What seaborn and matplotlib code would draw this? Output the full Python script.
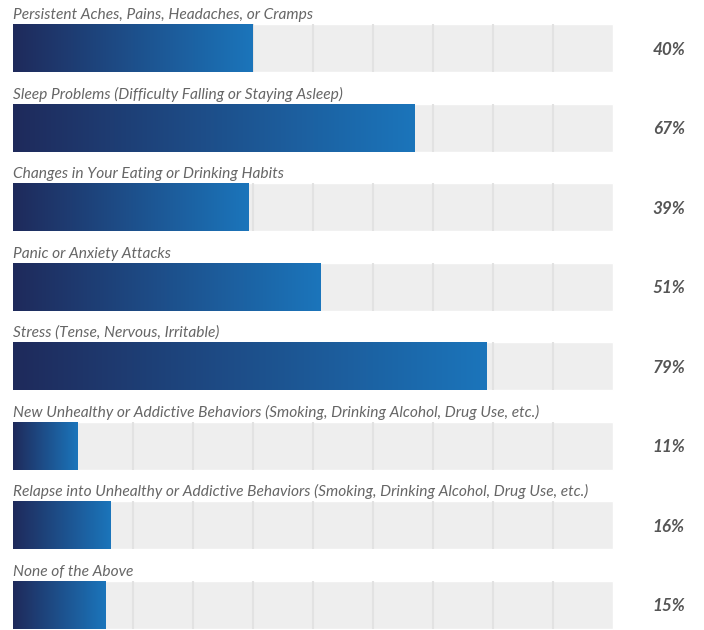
import numpy as np
import matplotlib
matplotlib.use("Agg")
import matplotlib.pyplot as plt
import seaborn as sns
from matplotlib.colors import LinearSegmentedColormap

# chart data
labels = [
    "Persistent Aches, Pains, Headaches, or Cramps",
    "Sleep Problems (Difficulty Falling or Staying Asleep)",
    "Changes in Your Eating or Drinking Habits",
    "Panic or Anxiety Attacks",
    "Stress (Tense, Nervous, Irritable)",
    "New Unhealthy or Addictive Behaviors (Smoking, Drinking Alcohol, Drug Use, etc.)",
    "Relapse into Unhealthy or Addictive Behaviors (Smoking, Drinking Alcohol, Drug Use, etc.)",
    "None of the Above",
]
# bar lengths as drawn (unrounded) and the printed percentages
values = [40, 67, 39.2, 51.3, 79, 10.7, 16.3, 15.5]
pct_labels = ["40%", "67%", "39%", "51%", "79%", "11%", "16%", "15%"]
track = [100] * len(values)
grid_ticks = [10, 20, 30, 40, 50, 60, 70, 80, 90]

sns.set_theme(style="white")
plt.rcParams["font.family"] = ["Lato", "DejaVu Sans"]

fig = plt.figure(figsize=(7.04, 6.30), dpi=100)
ax = fig.add_axes([0, 0, 1, 1])

bar_h = 0.604
rows = list(range(len(labels)))
# gray background track
sns.barplot(x=track, y=rows, orient="h", color="#eeeeee",
            width=bar_h, ax=ax, zorder=1)
# value bars
sns.barplot(x=values, y=rows, orient="h", color="#1b75bb",
            width=bar_h, ax=ax, zorder=3)

# grid lines inside each track
for i in rows:
    ax.vlines(grid_ticks, i - bar_h / 2, i + bar_h / 2, color="#e2e2e2",
              lw=1.5, zorder=2)

# gradient fill for the value bars
cmap = LinearSegmentedColormap.from_list("grad", ["#1f2a5b", "#1b75bb"])
grad = np.linspace(0, 1, 256).reshape(1, -1)
n = len(labels)
for p in ax.patches[n:]:
    x0, y0 = p.get_x(), p.get_y()
    w, h = p.get_width(), p.get_height()
    im = ax.imshow(grad, cmap=cmap, aspect="auto", zorder=4,
                   extent=[x0, x0 + w, y0 + h, y0], interpolation="bilinear")
    im.set_clip_path(p)
    p.set_facecolor("none")
    p.set_edgecolor("none")

for i, (lab, pct) in enumerate(zip(labels, pct_labels)):
    ax.text(0, i - bar_h / 2 - 0.025, lab, ha="left", va="bottom",
            fontsize=11.15, style="italic", color="#666666")
    ax.text(109.3, i + 0.02, pct, ha="center", va="center", fontsize=12.3,
            style="italic", fontweight="bold", color="#555555")

ax.set_xlim(-13 / 6, (704 - 13) / 6)
ax.set_ylim(7.32, -0.604)
ax.axis("off")

fig.savefig("out.png", dpi=100)
